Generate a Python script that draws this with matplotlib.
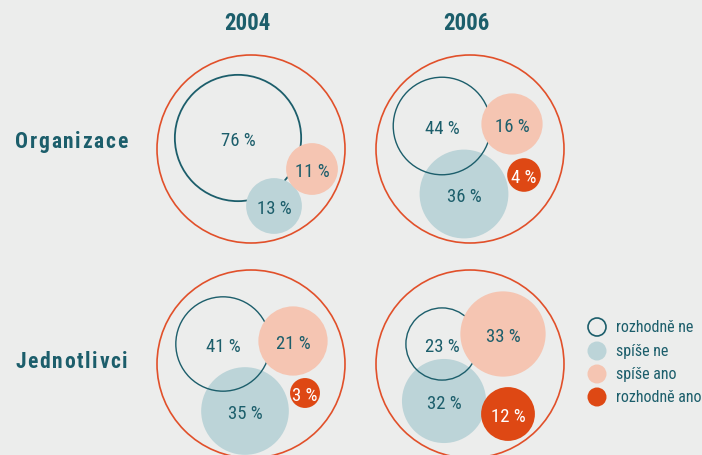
import numpy as np
import matplotlib.pyplot as plt
from matplotlib.patches import Circle

plt.rcParams['font.family'] = ['Roboto Condensed', 'Liberation Sans Narrow',
                               'Liberation Sans', 'DejaVu Sans']

# data: percentages in order rozhodne ne, spise ne, spise ano, rozhodne ano
years = ['2004', '2006']
groups = ['Organizace', 'Jednotlivci']
answers = ['rozhodně ne', 'spíše ne', 'spíše ano', 'rozhodně ano']
org_2004 = [76, 13, 11, 0]
org_2006 = [44, 36, 16, 4]
ind_2004 = [41, 35, 21, 3]
ind_2006 = [23, 32, 33, 12]
values = [[org_2004, org_2006], [ind_2004, ind_2006]]

# layout (pixels): panel centres and bubble offsets from panel centre
col_x = [251, 470]
row_y = [150, 365]
outer_r = 94
offsets = [
    [[(-13, -11), (23, 57), (61, 20), None],
     [(-28, -23), (-6, 45), (42, -25), (54, 26)]],
    [[(-28, -20), (-6, 47), (42, -23), (54, 29)],
     [(-28, -20), (-26, 37), (33, -30), (38, 50)]],
]
ring_on_top = [[False, True], [True, True]]


def radius(p):
    # sqrt scale with a small base so tiny bubbles still hold their label
    return 3 + 6.9 * np.sqrt(p)


bg = '#ecedec'
teal = '#1c5e6b'
orange = '#e1502a'
fills = [None, '#bcd4d8', '#f5c5b2', '#de4814']
txt_col = [teal, teal, teal, 'white']

fig = plt.figure(figsize=(7.02, 4.56), dpi=100, facecolor=bg)
ax = fig.add_axes([0, 0, 1, 1])
ax.set_xlim(0, 702)
ax.set_ylim(456, 0)
ax.set_facecolor(bg)
ax.axis('off')
renderer = fig.canvas.get_renderer()


def spaced_text(x, y, s, spacing, **kw):
    # draw text letter by letter with extra tracking
    for ch in s:
        t = ax.text(x, y, ch, ha='left', va='center', **kw)
        w = t.get_window_extent(renderer).width
        x += w + spacing


for j, yr in enumerate(years):
    ax.text(col_x[j] - 4, 24, yr, ha='center', va='center', fontsize=16.5,
            fontweight='bold', color=teal)

label_y = [142, 362]
for i, g in enumerate(groups):
    spaced_text(15, label_y[i], g, 1.7, fontsize=15.5, fontweight='bold', color=teal)
    for j in range(len(years)):
        cx, cy = col_x[j], row_y[i]
        ax.add_patch(Circle((cx, cy), outer_r, fill=False, ec=orange, lw=1.2, zorder=1))
        for a, p in enumerate(values[i][j]):
            if p == 0:
                continue
            dx, dy = offsets[i][j][a]
            r = radius(p)
            if a == 0:
                z = 2.5 if ring_on_top[i][j] else 1.5
                ax.add_patch(Circle((cx + dx, cy + dy), r, fill=False, ec=teal,
                                    lw=1.3 if p > 60 else 1.0, zorder=z))
            else:
                ax.add_patch(Circle((cx + dx, cy + dy), r, fc=fills[a], ec='none',
                                    zorder=2 if a == 1 else 3))
            ax.text(cx + dx, cy + dy + 2, f'{p} %', ha='center', va='center',
                    fontsize=13.5, color=txt_col[a], zorder=5)

# legend
leg_y = [328, 352, 375, 398]
for a, lab in enumerate(answers):
    if a == 0:
        ax.add_patch(Circle((597, leg_y[a]), 9, fill=False, ec=teal, lw=1.2))
    else:
        ax.add_patch(Circle((597, leg_y[a]), 9.5, fc=fills[a], ec='none'))
    ax.text(616, leg_y[a], lab, ha='left', va='center', fontsize=11.5, color=teal)

fig.savefig('out.png', dpi=100, facecolor=bg)
